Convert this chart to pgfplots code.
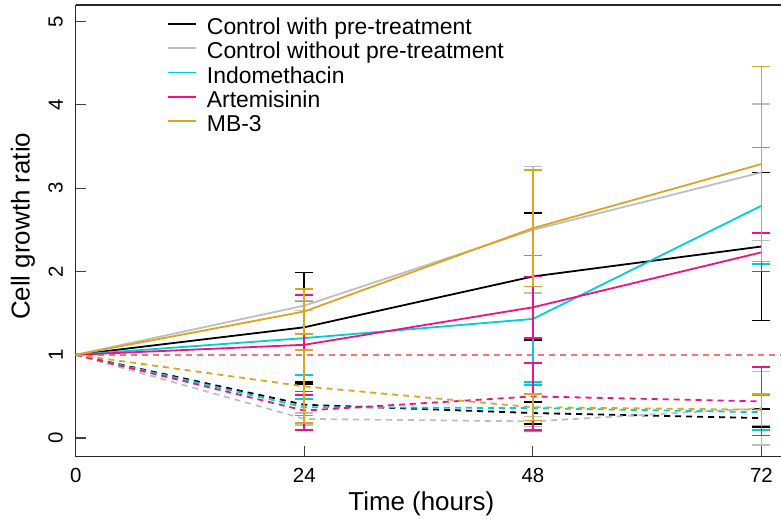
\documentclass[border=0pt]{standalone}
\usepackage{fontspec}
\setmainfont{Liberation Sans}
\usepackage{pgfplots}
\pgfplotsset{compat=1.18}
\definecolor{ctrlgray}{HTML}{BEBEBE}
\definecolor{indo}{HTML}{00CED1}
\definecolor{arte}{HTML}{EE1289}
\definecolor{mbthree}{HTML}{DAA520}
\definecolor{refline}{HTML}{F87474}

\pgfplotsset{
  growth/.style={line width=1.8bp, mark=none},
  pre/.style={growth, dash pattern=on 6bp off 5bp},
  sd/.style={draw=none, mark=none, forget plot,
    error bars/.cd, y dir=both, y explicit,
    error bar style={solid, line width=1.6bp, draw=#1},
    error mark options={rotate=90, mark size=9bp, line width=1.6bp, solid, draw=#1}},
}

\begin{document}
\begin{tikzpicture}
\begin{axis}[
  name=ax, scale only axis, width=705.3bp, height=451.7bp,
  xmin=0, xmax=74.05, ymin=-0.224, ymax=5.2,
  axis x line=box, axis y line=left,
  axis line style={-, line width=1.1bp, black!85},
  xtick={0,24,48,72}, ytick={0,1,2,3,4,5},
  xtick pos=bottom, ytick pos=left,
  tick align=inside, major tick length=10.5bp,
  tick style={line width=1.1bp, black!75},
  /pgf/number format/assume math mode=true,
  ticklabel style={font=\fontsize{20.5}{20.5}\selectfont},
  yticklabel style={rotate=90, anchor=south, inner sep=0pt},
  yticklabel shift=12.7bp,
  xticklabel style={anchor=north, inner sep=0pt},
  xticklabel shift=11.6bp,
  xlabel={Time (hours)}, ylabel={Cell growth ratio},
  label style={font=\fontsize{26}{26}\selectfont},
  xlabel style={at={(axis description cs:0.49,-0.0764)}, anchor=north, inner sep=0pt},
  ylabel style={at={(axis description cs:-0.0747,0.51)}, anchor=center, inner sep=0pt},
  legend style={draw=none, fill=none, at={(axis description cs:0.1294,0.9757)},
    anchor=north west, font=\fontsize{23}{23}\selectfont, inner sep=0pt,
    row sep=3.2bp, column sep=10bp,
    nodes={inner sep=0pt, text height=0.75em, text depth=0.25em},
    cells={anchor=west}},
  legend image code/.code={\path[draw=none, fill=none] (0bp,0bp) rectangle (28bp,16bp);
    \draw[#1] (0bp,8bp) -- (28bp,8bp);},
]
\addplot[refline, line width=1.6bp, dash pattern=on 6bp off 5bp, forget plot]
  coordinates {(0,1) (74.05,1)};

% control with pre-treatment
\addplot[growth, black] coordinates {(0,1) (24,1.33) (48,1.94) (72,2.30)};
\addlegendentry{Control with pre-treatment}
\addplot[sd=black] coordinates {(24,1.33) +- (0,0.66) (48,1.94) +- (0,0.76) (72,2.30) +- (0,0.89)};
\addplot[pre, black, forget plot] coordinates {(0,1) (24,0.40) (48,0.30) (72,0.24)};
\addplot[sd=black] coordinates {(24,0.40) +- (0,0.25) (48,0.30) +- (0,0.13) (72,0.24) +- (0,0.11)};

% control without pre-treatment
\addplot[growth, ctrlgray] coordinates {(0,1) (24,1.59) (48,2.50) (72,3.19)};
\addlegendentry{Control without pre-treatment}
\addplot[sd=ctrlgray] coordinates {(24,1.59) +- (0,0.06) (48,2.50) +- (0,0.76) (72,3.19) +- (0,0.82)};
\addplot[pre, ctrlgray, forget plot] coordinates {(0,1) (24,0.23) (48,0.20) (72,0.36)};
\addplot[sd=ctrlgray] coordinates {(24,0.23) +- (0,0.07) (48,0.20) +- (0,0.06) (72,0.36) +- (0,0.44)};

% indomethacin
\addplot[growth, indo] coordinates {(0,1) (24,1.20) (48,1.43) (72,2.79)};
\addlegendentry{Indomethacin}
\addplot[sd=indo] coordinates {(24,1.20) +- (0,0.44) (48,1.43) +- (0,0.76) (72,2.79) +- (0,0.70)};
\addplot[pre, indo, forget plot] coordinates {(0,1) (24,0.37) (48,0.36) (72,0.31)};
\addplot[sd=indo] coordinates {(24,0.37) +- (0,0.10) (48,0.36) +- (0,0.28) (72,0.31) +- (0,0.21)};

% artemisinin
\addplot[growth, arte] coordinates {(0,1) (24,1.12) (48,1.57) (72,2.23)};
\addlegendentry{Artemisinin}
\addplot[sd=arte] coordinates {(24,1.12) +- (0,0.60) (48,1.57) +- (0,0.37) (72,2.23) +- (0,0.23)};
\addplot[pre, arte, forget plot] coordinates {(0,1) (24,0.33) (48,0.50) (72,0.44)};
\addplot[sd=arte] coordinates {(24,0.33) +- (0,0.23) (48,0.50) +- (0,0.40) (72,0.44) +- (0,0.41)};

% MB-3
\addplot[growth, mbthree] coordinates {(0,1) (24,1.52) (48,2.52) (72,3.29)};
\addlegendentry{MB-3}
\addplot[sd=mbthree] coordinates {(24,1.52) +- (0,0.27) (48,2.52) +- (0,0.70) (72,3.29) +- (0,1.17)};
\addplot[pre, mbthree, forget plot] coordinates {(0,1) (24,0.62) (48,0.37) (72,0.34)};
\addplot[sd=mbthree] coordinates {(24,0.62) +- (0,0.44) (48,0.37) +- (0,0.16) (72,0.34) +- (0,0.19)};
\end{axis}
\pgfresetboundingbox
\path[use as bounding box] ([xshift=-75.7bp, yshift=-62.3bp]ax.south west)
  rectangle ([yshift=5bp]ax.north east);
\end{tikzpicture}
\end{document}
